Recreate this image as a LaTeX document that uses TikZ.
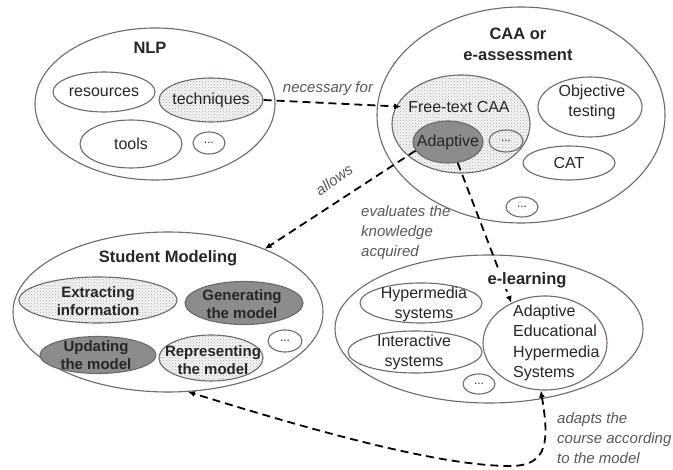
\documentclass[tikz,border=0pt]{standalone}
\usepackage{fontspec}
\setmainfont{Liberation Sans}
\usetikzlibrary{shapes.geometric,arrows.meta,patterns}

\definecolor{rim}{RGB}{112,104,102}
\definecolor{ink}{RGB}{38,38,38}
\definecolor{note}{RGB}{88,88,88}
\definecolor{shade}{RGB}{140,140,140}

\tikzset{
  blob/.style 2 args={ellipse, draw=rim, line width=1.1pt,
    minimum width=#1pt, minimum height=#2pt, inner sep=0pt},
  speckled/.style={preaction={fill=gray!8}, pattern=crosshatch dots, pattern color=gray!65},
  darkfill/.style={fill=shade},
  txt/.style={font=\fontsize{16}{20}\selectfont, text=ink, align=center, inner sep=0pt},
  btxt/.style={font=\fontsize{15}{18}\selectfont\bfseries, text=ink, align=center, inner sep=0pt},
  ttl/.style={font=\fontsize{16.5}{21}\selectfont\bfseries, text=ink, align=center, inner sep=0pt},
  etc/.style={font=\fontsize{12}{14}\selectfont, text=ink, inner sep=0pt},
  lbl/.style={font=\fontsize{15}{20}\selectfont\itshape, text=note, align=left, inner sep=0pt},
  tip/.tip={Latex[length=7pt,width=6pt]},
  lnk/.style={draw=black, line width=1.8pt, dash pattern=on 8pt off 5pt, -tip}
}

\begin{document}
\begin{tikzpicture}[x=1pt,y=-1pt]
\useasboundingbox[fill=white] (0,0) rectangle (673,470);

% ---- NLP ----
\node[blob={240}{152}] (nlp) at (155,104) {};
\node[ttl] (nlpT) at (150,48) {NLP};
\node[blob={102}{40}] (res) at (104,92) {};
\node[txt] (resT) at (res) {resources};
\node[blob={104}{44}, speckled] (tech) at (211,100) {};
\node[txt] (techT) at (tech) {techniques};
\node[blob={102}{48}] (tools) at (131,144) {};
\node[txt] (toolsT) at (tools) {tools};
\node[blob={32}{22}] (nlpEtc) at (209,143) {};
\node[etc] (nlpEtcT) at (nlpEtc) {...};

% ---- CAA or e-assessment ----
\node[blob={288}{216}] (caa) at (521,115) {};
\node[ttl] (caaT) at (518,44) {CAA or\\e-assessment};
\node[blob={138}{98}, speckled] (ft) at (461,124) {};
\node[txt] (ftT) at (459,107) {Free-text CAA};
\node[blob={70}{42}, darkfill] (adapt) at (448,142) {};
\node[txt] (adaptT) at (adapt) {Adaptive};
\node[blob={34}{22}] (ftEtc) at (506,141) {};
\node[etc] (ftEtcT) at (ftEtc) {...};
\node[blob={104}{60}] (obj) at (590,107) {};
\node[txt] (objT) at (592,102) {Objective\\testing};
\node[blob={92}{34}] (cat) at (569,163) {};
\node[txt] (catT) at (cat) {CAT};
\node[blob={32}{20}] (caaEtc) at (522,207) {};
\node[etc] (caaEtcT) at (caaEtc) {...};

% ---- Student Modeling ----
\node[blob={310}{160}] (sm) at (168,312) {};
\node[ttl] (smT) at (168,258) {Student Modeling};
\node[blob={158}{46}, speckled] (ext) at (98,300) {};
\node[btxt] (extT) at (98,301) {Extracting\\information};
\node[blob={118}{43}, darkfill] (gen) at (244,303) {};
\node[btxt] (genT) at (242,304) {Generating\\the model};
\node[blob={116}{37}, darkfill] (upd) at (98,355) {};
\node[btxt] (updT) at (96,355) {Updating\\the model};
\node[blob={104}{46}, speckled] (rep) at (211,358) {};
\node[btxt] (repT) at (213,360) {Representing\\the model};
\node[blob={34}{22}] (smEtc) at (285,341) {};
\node[etc] (smEtcT) at (smEtc) {...};

% ---- e-learning ----
\node[blob={308}{148}] (el) at (489,329) {};
\node[blob={122}{40}] (hyp) at (421,303) {};
\node[txt] (hypT) at (424,304) {Hypermedia\\systems};
\node[blob={134}{42}] (inter) at (415,352) {};
\node[txt] (interT) at (414,352) {Interactive\\systems};
\node[blob={124}{94}] (aehs) at (545,343) {};
\node[txt, align=left, anchor=west, font=\fontsize{16}{20.4}\selectfont] (aehsT) at (513,343)
  {Adaptive\\Educational\\Hypermedia\\Systems};
\node[blob={32}{20}] (elEtc) at (479,384) {};
\node[etc] (elEtcT) at (elEtc) {...};

% ---- relations ----
\draw[lnk, shorten >=7pt] (tech.east) -- (ftT.west);
\node[lbl] (necT) at (328,89) {necessary for};

\draw[lnk] (adapt.195) -- (sm);
\node[lbl, rotate=35] (allowT) at (334,180) {allows};

\draw[lnk] (adapt.-65) -- (aehs.130);
\node[lbl, anchor=west] (evalT) at (361,233) {evaluates the\\knowledge\\acquired};

\draw[lnk, tip-tip] (aehs.265) .. controls (549,440) and (549,466) .. (510,466)
  .. controls (430,466) and (280,420) .. (sm.-76);
\node[lbl, anchor=west] (adaptsT) at (557,438) {adapts the\\course according\\to the model};

% title set over the passing connector
\node[ttl, fill=white, inner sep=1pt] (elT) at (527,280) {e-learning};

\end{tikzpicture}
\end{document}
